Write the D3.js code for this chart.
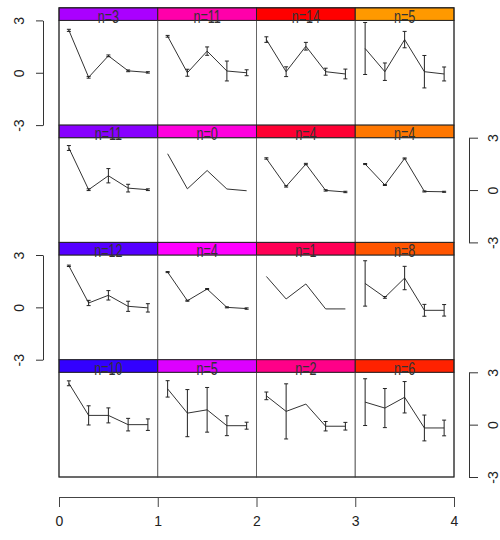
<!DOCTYPE html>
<html>
<head>
<meta charset="utf-8">
<script src="https://cdn.jsdelivr.net/npm/d3@7"></script>
<style>
  html, body { margin: 0; padding: 0; background: #fff; }
  svg { display: block; }
  text { font-family: "Liberation Sans", Arial, sans-serif; }
</style>
</head>
<body>
<svg id="chart" width="500" height="540"></svg>
<script>
// Cluster profile grid: 4 x 4 clusters, 5 time points each, mean +/- error.
const clusterCounts = [
  [3, 11, 14, 5],
  [11, 0, 4, 4],
  [12, 4, 1, 8],
  [10, 5, 2, 6]
];

const stripColors = [
  ["#aa00ff", "#ff00aa", "#ff0000", "#ff9900"],
  ["#8800ff", "#ff00dd", "#ff0033", "#ff7700"],
  ["#5500ff", "#ff00ff", "#ff0055", "#ff5500"],
  ["#3300ff", "#dd00ff", "#ff0088", "#ff2200"]
];

const timePoints = [0.1, 0.3, 0.5, 0.7, 0.9];

const clusterMeans = [
  [[2.43, -0.26, 0.97, 0.11, 0.02], [2.09, 0.00, 1.24, 0.10, 0.00], [1.90, 0.06, 1.52, 0.06, -0.07], [1.39, 0.06, 1.90, 0.06, -0.07]],
  [[2.41, 0.02, 0.82, 0.11, 0.02], [2.08, 0.07, 1.12, 0.06, -0.04], [1.81, 0.21, 1.49, -0.02, -0.11], [1.49, 0.29, 1.81, -0.08, -0.10]],
  [[2.38, 0.25, 0.69, 0.06, -0.03], [2.02, 0.38, 1.05, 0.00, -0.07], [1.77, 0.48, 1.34, -0.09, -0.09], [1.37, 0.57, 1.68, -0.17, -0.17]],
  [[2.37, 0.53, 0.53, 0.00, 0.00], [2.05, 0.66, 0.85, -0.06, -0.06], [1.65, 0.76, 1.18, -0.09, -0.09], [1.29, 0.95, 1.57, -0.19, -0.19]]
];

const clusterErrors = [
  [[0.06, 0.05, 0.05, 0.05, 0.04], [0.05, 0.20, 0.24, 0.57, 0.17], [0.16, 0.28, 0.22, 0.20, 0.28], [1.49, 0.50, 0.47, 0.93, 0.40]],
  [[0.14, 0.05, 0.41, 0.22, 0.05], [0, 0, 0, 0, 0], [0.04, 0.04, 0.04, 0.04, 0.04], [0.03, 0.03, 0.03, 0.03, 0.03]],
  [[0.04, 0.15, 0.27, 0.29, 0.24], [0.03, 0.03, 0.03, 0.03, 0.04], [0, 0, 0, 0, 0], [1.30, 0.05, 0.67, 0.34, 0.33]],
  [[0.14, 0.55, 0.43, 0.36, 0.33], [0.47, 1.35, 1.28, 0.57, 0.20], [0.22, 1.58, 0, 0.27, 0.22], [1.34, 1.12, 0.90, 0.74, 0.45]]
];

const xTicks = [0, 1, 2, 3, 4];
const yTicks = [-3, 0, 3];

const svg = d3.select("#chart");

const x = d3.scaleLinear().domain([0, 4]).range([59, 454]);

const top0 = 7.8, rowH = 117.3, stripH = 12.6;
const yScales = d3.range(4).map(r => {
  const st = top0 + r * rowH;
  return d3.scaleLinear().domain([-3, 3]).range([st + rowH, st + stripH]);
});

const line = d3.line();

for (let r = 0; r < 4; r++) {
  const y = yScales[r];
  const st = top0 + r * rowH;
  for (let c = 0; c < 4; c++) {
    const g = svg.append("g");
    const x0 = x(c), x1 = x(c + 1);
    const xm = (x0 + x1) / 2;
    // panel frame
    g.append("rect")
      .attr("x", x0).attr("y", st + stripH)
      .attr("width", x1 - x0).attr("height", rowH - stripH)
      .attr("fill", "#fff").attr("stroke", "#666").attr("stroke-width", 1);
    // strip
    g.append("rect")
      .attr("x", x0).attr("y", st)
      .attr("width", x1 - x0).attr("height", stripH)
      .attr("fill", stripColors[r][c]).attr("stroke", "#222").attr("stroke-width", 1);
    g.append("text")
      .attr("x", 0).attr("y", 0)
      .attr("text-anchor", "middle")
      .attr("font-size", 18)
      .attr("fill", "#333")
      .attr("transform", `translate(${xm},${st + stripH + 2.4}) scale(0.7,1)`)
      .text("n=" + clusterCounts[r][c]);

    const pts = timePoints.map((t, i) => [x(c + t), y(clusterMeans[r][c][i])]);
    g.append("path")
      .attr("d", line(pts))
      .attr("fill", "none").attr("stroke", "#333").attr("stroke-width", 1);

    timePoints.forEach((t, i) => {
      const e = clusterErrors[r][c][i];
      if (e <= 0) return;
      const xc = x(c + t);
      const ya = y(clusterMeans[r][c][i] + e), yb = y(clusterMeans[r][c][i] - e);
      g.append("path")
        .attr("d", `M${xc},${ya}V${yb}M${xc - 2},${ya}H${xc + 2}M${xc - 2},${yb}H${xc + 2}`)
        .attr("fill", "none").attr("stroke", "#222").attr("stroke-width", 1);
    });
  }
}

// outer border around the grid
svg.append("rect")
  .attr("x", x(0)).attr("y", top0)
  .attr("width", x(4) - x(0)).attr("height", 4 * rowH)
  .attr("fill", "none").attr("stroke", "#222").attr("stroke-width", 1);

// bottom axis
const xAxis = svg.append("g")
  .attr("transform", "translate(0,497)")
  .call(d3.axisBottom(x).tickValues(xTicks).tickFormat(d3.format("d")).tickSize(10).tickSizeOuter(0));
xAxis.select(".domain").attr("stroke", "#444");
xAxis.selectAll(".tick line").attr("stroke", "#444");
xAxis.selectAll(".tick text").attr("font-size", 14).attr("fill", "#222")
  .attr("font-family", "Liberation Sans, Arial, sans-serif").attr("y", 29).attr("dy", 0);

// alternating side axes
for (let r = 0; r < 4; r++) {
  const left = r % 2 === 0;
  const ax = left ? d3.axisLeft(yScales[r]) : d3.axisRight(yScales[r]);
  const g = svg.append("g")
    .attr("transform", `translate(${left ? 43 : 469},0)`)
    .call(ax.tickValues(yTicks).tickFormat(d3.format("d")).tickSize(left ? 7 : 9).tickSizeOuter(0));
  g.select(".domain").attr("stroke", "#333");
  g.selectAll(".tick line").attr("stroke", "#333");
  g.selectAll(".tick text")
    .attr("font-size", 14).attr("fill", "#222")
    .attr("font-family", "Liberation Sans, Arial, sans-serif")
    .attr("text-anchor", "middle")
    .attr("x", 0).attr("dy", 0)
    .attr("y", left ? -19 : 29)
    .attr("transform", "rotate(-90)")
    .text(d => d === -3 ? "-3" : String(d));
}
</script>
</body>
</html>
